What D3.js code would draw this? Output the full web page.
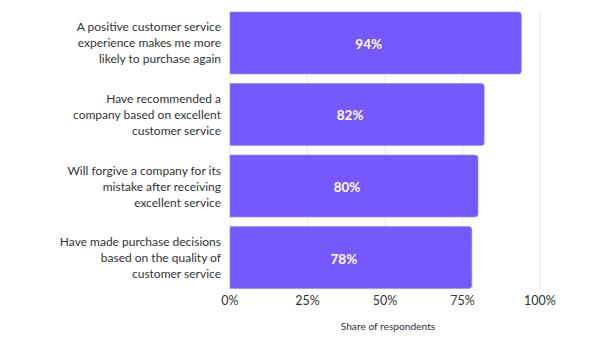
<!DOCTYPE html>
<html>
<head>
<meta charset="utf-8">
<script src="https://cdn.jsdelivr.net/npm/d3@7"></script>
<style>
  body { margin: 0; background: #fff; }
  text { font-family: Lato, "Noto Sans", sans-serif; }
</style>
</head>
<body>
<div id="vis"></div>
<script>
// data
let categories = [
  ["A positive customer service", "experience makes me more", "likely to purchase again"],
  ["Have recommended a", "company based on excellent", "customer service"],
  ["Will forgive a company for its", "mistake after receiving", "excellent service"],
  ["Have made purchase decisions", "based on the quality of", "customer service"]
]
let values = [94, 82, 80, 78]
let ticks = [0, 25, 50, 75, 100]

let width = 612, height = 344

let svg = d3.select('#vis')
  .append('svg')
  .attr('width', width)
  .attr('height', height)

let x = d3.scaleLinear().domain([0, 100]).range([230, 540])
let y = d3.scaleBand().domain(d3.range(values.length)).range([12, 288.5]).paddingInner(0.134)

// gridlines
svg.append('g')
  .selectAll('line')
  .data(ticks)
  .join('line')
  .attr('x1', d => x(d)).attr('x2', d => x(d))
  .attr('y1', 12).attr('y2', 289)
  .attr('stroke', '#e8e8ee')
  .attr('stroke-width', 1)

// bars with rounded right corners
function barPath(x0, x1, y0, h, r) {
  return `M${x0},${y0}H${x1 - r}Q${x1},${y0} ${x1},${y0 + r}V${y0 + h - r}Q${x1},${y0 + h} ${x1 - r},${y0 + h}H${x0}Z`
}

svg.append('g')
  .selectAll('path')
  .data(values)
  .join('path')
  .attr('d', (d, i) => barPath(x(0), x(d), y(i), y.bandwidth(), 3))
  .attr('fill', '#7559ff')
  .attr('stroke', '#9a86ff')
  .attr('stroke-width', 0.6)

// value labels
svg.append('g')
  .selectAll('text')
  .data(values)
  .join('text')
  .attr('x', d => x(d / 2) - 7)
  .attr('y', (d, i) => y(i) + y.bandwidth() / 2 + 1)
  .attr('text-anchor', 'middle')
  .attr('dominant-baseline', 'central')
  .attr('fill', '#fff')
  .attr('font-weight', 'bold')
  .attr('font-size', 13.5)
  .text(d => d + '%')

// category labels
let cat = svg.append('g')
  .selectAll('text')
  .data(categories)
  .join('text')
  .attr('text-anchor', 'end')
  .attr('fill', '#333')
  .attr('font-size', 12)

cat.selectAll('tspan')
  .data((d, i) => d.map((t, j) => ({ t: t, j: j, n: d.length, i: i })))
  .join('tspan')
  .attr('x', 221)
  .attr('y', d => y(d.i) + y.bandwidth() / 2 + (d.j - (d.n - 1) / 2) * 16 + 4.5)
  .text(d => d.t)

// x axis tick labels
svg.append('g')
  .selectAll('text')
  .data(ticks)
  .join('text')
  .attr('x', d => x(d))
  .attr('y', 305)
  .attr('text-anchor', 'middle')
  .attr('fill', '#333')
  .attr('font-size', 12.5)
  .text(d => d + '%')

svg.append('text')
  .attr('x', 388)
  .attr('y', 330)
  .attr('text-anchor', 'middle')
  .attr('fill', '#333')
  .attr('font-size', 10.2)
  .text('Share of respondents')
</script>
</body>
</html>
